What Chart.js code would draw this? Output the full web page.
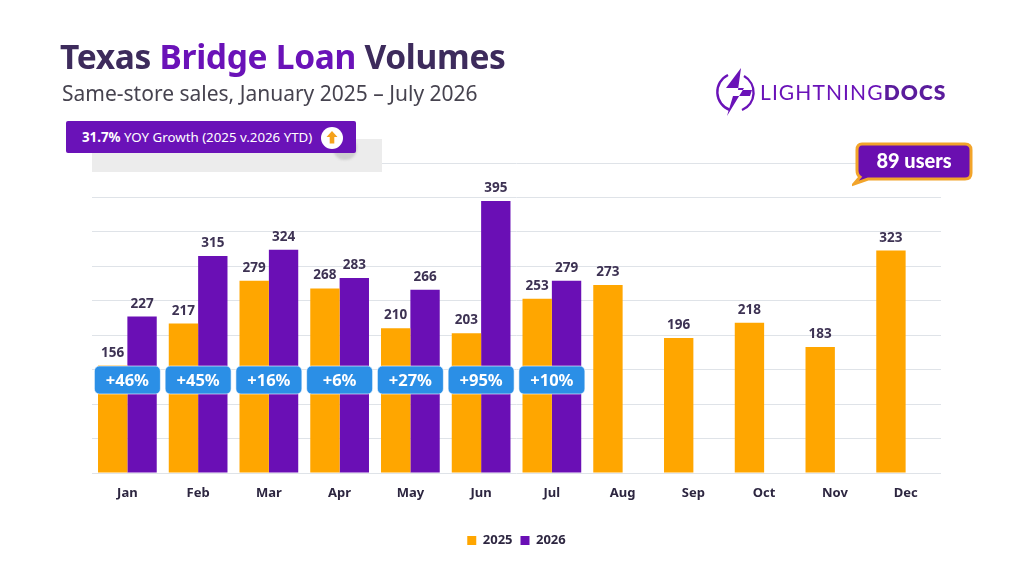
<!DOCTYPE html>
<html>
<head>
<meta charset="utf-8">
<script src="https://cdn.jsdelivr.net/npm/chart.js@4.4.1/dist/chart.umd.min.js"></script>
<style>
  html, body { margin: 0; padding: 0; background: #fff; }
  body { width: 1024px; height: 576px; position: relative; overflow: hidden; font-family: "Noto Sans", sans-serif; }
  #wrap { position: absolute; left: 0; top: 0; width: 1024px; height: 576px; }
  .title { position: absolute; left: 60px; top: 33px; font-size: 33.5px; font-weight: 700; color: #3d2b5c; letter-spacing: -0.3px; }
  .title span { color: #6a12b8; }
  .subtitle { position: absolute; left: 62px; top: 79px; font-size: 21px; color: #46434f; }
  .growth-shadow { position: absolute; left: 92px; top: 139px; width: 290px; height: 33px; background: #ececec; }
  .growth-dot { position: absolute; left: 333px; top: 136px; width: 24px; height: 24px; border-radius: 50%; background: #cfcfcf; filter: blur(1px); }
  .growth { position: absolute; left: 66px; top: 121px; width: 290px; height: 32px; background: #6a12b8; color: #fff; font-size: 13.3px; line-height: 32px; padding-left: 16px; box-sizing: border-box; border-radius: 2px; }
  .growth b { font-weight: 700; }
  .growth .arrow { position: absolute; top: 5px; }
  .users { position: absolute; left: 852px; top: 141px; }
  .logo { position: absolute; left: 714px; top: 66px; }
  .logo-text { position: absolute; left: 760px; top: 79px; font-size: 21px; color: #6a12b8; letter-spacing: 1.1px; font-family: "Lato", sans-serif; font-weight: 400; }
  .logo-text b { font-weight: 800; color: #5a1c9c; }
</style>
</head>
<body>
<div id="wrap"><canvas id="chart" width="1024" height="576"></canvas></div>

<div class="title">Texas <span>Bridge Loan</span> Volumes</div>
<div class="subtitle">Same-store sales, January 2025 – July 2026</div>

<div class="growth-shadow"></div>
<div class="growth-dot"></div>
<div class="growth"><b>31.7%</b> YOY Growth (2025 v.2026 YTD)
  <svg class="arrow" width="24" height="24" viewBox="0 0 24 24" style="left:254px">
    <circle cx="12" cy="12" r="11" fill="#fff"/>
    <path d="M12 5 L17.5 11 L14.3 11 L14.3 17.5 L9.7 17.5 L9.7 11 L6.5 11 Z" fill="#f5a21b"/>
  </svg>
</div>

<svg class="logo" width="46" height="52" viewBox="0 0 46 52">
  <path d="M14 9 A19 19 0 0 0 16 44" fill="none" stroke="#6a12b8" stroke-width="2.4"/>
  <path d="M30 10 A19 19 0 0 1 28 44" fill="none" stroke="#6a12b8" stroke-width="2.4"/>
  <path d="M27 2 L12 22 L30 22 L13 50 L19 30 L36 30 L38 24 L24 24 Z" fill="#6a12b8"/>
</svg>
<div class="logo-text">LIGHTNING<b>DOCS</b></div>

<svg class="users" width="124" height="46" viewBox="0 0 124 46">
  <path d="M10 3 H113 Q119 3 119 9 V32 Q119 38 113 38 H16 L2 43 L8 36 Q5 34 5 29 V9 Q5 3 10 3 Z" fill="#6a0fb0" stroke="#f2a42a" stroke-width="3"/>
  <text x="62" y="27" text-anchor="middle" fill="#fff" font-family="Lato, sans-serif" font-weight="900" font-size="20">89 users</text>
</svg>

<script>
const months = ['Jan', 'Feb', 'Mar', 'Apr', 'May', 'Jun', 'Jul', 'Aug', 'Sep', 'Oct', 'Nov', 'Dec'];
const vol2025 = [156, 217, 279, 268, 210, 203, 253, 273, 196, 218, 183, 323];
const vol2026 = [227, 315, 324, 283, 266, 395, 279, null, null, null, null, null];
const yoyLabels = ['+46%', '+45%', '+16%', '+6%', '+27%', '+95%', '+10%'];
const badgeLevel = 135;

const orange = '#ffa600';
const purple = '#6a0fb5';

// values above bars
const valueLabels = {
    id: 'valueLabels',
    afterDatasetsDraw(chart) {
        const ctx = chart.ctx;
        ctx.save();
        ctx.font = 'bold 13.5px "Noto Sans", sans-serif';
        ctx.fillStyle = '#3d3253';
        ctx.textAlign = 'center';
        ctx.textBaseline = 'bottom';
        chart.data.datasets.forEach((ds, di) => {
            chart.getDatasetMeta(di).data.forEach((bar, i) => {
                if (ds.data[i] == null) return;
                ctx.fillText(ds.data[i], bar.x, bar.y - 6);
            });
        });
        ctx.restore();
    }
};

// blue yoy badges
const yoyBadges = {
    id: 'yoyBadges',
    afterDatasetsDraw(chart) {
        const ctx = chart.ctx;
        const xs = chart.scales.x;
        const y = chart.scales.y.getPixelForValue(badgeLevel);
        ctx.save();
        yoyLabels.forEach((txt, i) => {
            const cx = xs.getPixelForValue(i);
            const w = 66, h = 28;
            ctx.beginPath();
            ctx.roundRect(cx - w / 2, y - h / 2, w, h, 5);
            ctx.fillStyle = '#2b8fe6';
            ctx.fill();
            ctx.strokeStyle = 'rgba(255,255,255,0.6)';
            ctx.lineWidth = 1;
            ctx.stroke();
            ctx.fillStyle = '#fff';
            ctx.font = 'bold 16.5px "Noto Sans", sans-serif';
            ctx.textAlign = 'center';
            ctx.textBaseline = 'middle';
            ctx.fillText(txt, cx, y + 1);
        });
        ctx.restore();
    }
};

new Chart(document.getElementById('chart'), {
    type: 'bar',
    data: {
        labels: months,
        datasets: [
            { label: '2025', data: vol2025, backgroundColor: orange },
            { label: '2026', data: vol2026, backgroundColor: purple }
        ]
    },
    options: {
        responsive: false,
        animation: false,
        layout: { padding: { left: 92, right: 83, top: 163, bottom: 19 } },
        datasets: { bar: { categoryPercentage: 0.83, barPercentage: 1.0, skipNull: false } },
        plugins: {
            legend: {
                position: 'bottom',
                labels: {
                    boxWidth: 9,
                    boxHeight: 9,
                    padding: 8,
                    color: '#2d2640',
                    font: { size: 13, weight: 'bold', family: '"Noto Sans", sans-serif' }
                }
            },
            tooltip: { enabled: false }
        },
        scales: {
            x: {
                grid: { display: false },
                border: { display: false },
                ticks: {
                    color: '#2d2640',
                    padding: 4,
                    font: { size: 13, weight: 'bold', family: '"Noto Sans", sans-serif' }
                },
                afterFit(s) { s.height = 53; }
            },
            y: {
                min: 0,
                max: 450,
                ticks: { display: false, stepSize: 50 },
                grid: { color: '#dfe3e8', drawTicks: false },
                border: { display: false },
                afterFit(s) { s.width = 0; }
            }
        }
    },
    plugins: [valueLabels, yoyBadges]
});
</script>
</body>
</html>
